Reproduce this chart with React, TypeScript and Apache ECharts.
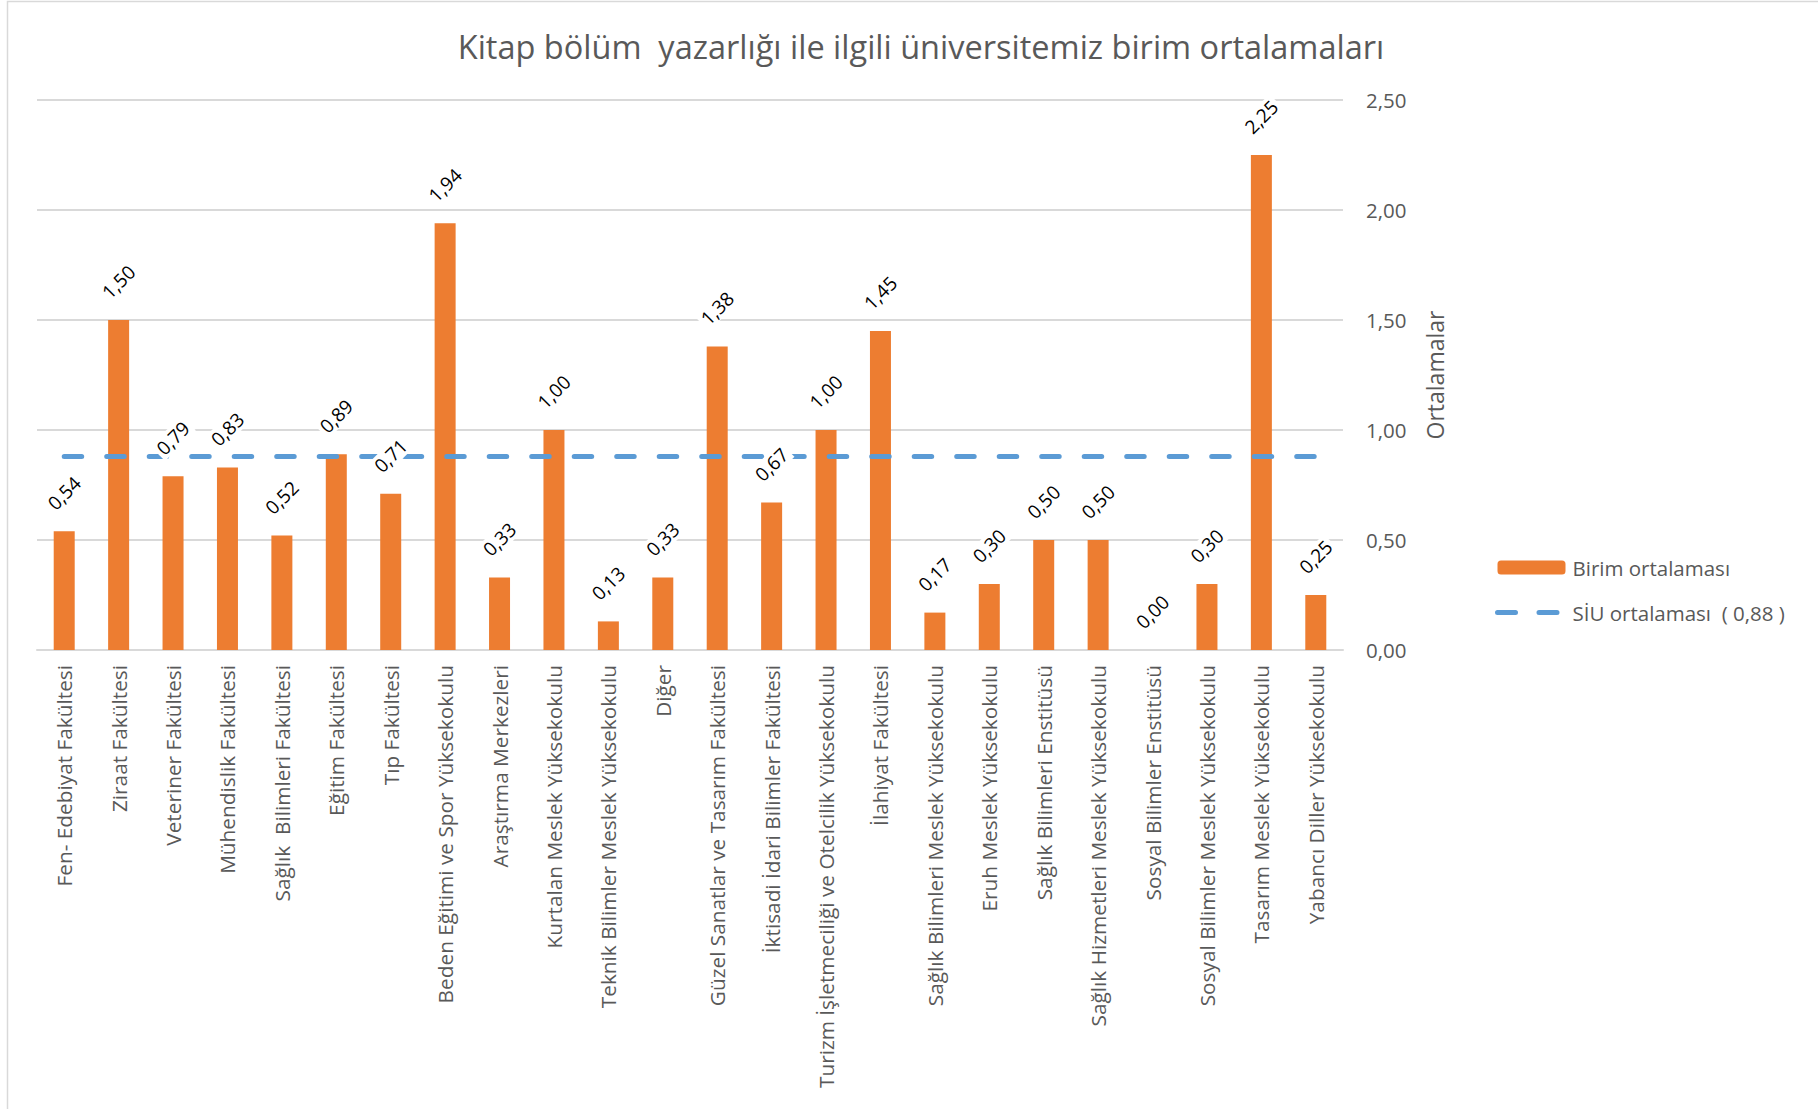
import React, { useEffect, useRef } from "react";
import * as echarts from "echarts";

const titleText = "Kitap bölüm  yazarlığı ile ilgili üniversitemiz birim ortalamaları";
const yAxisName = "Ortalamalar";
const barSeriesName = "Birim ortalaması";
const lineSeriesName = "SİU ortalaması  ( 0,88 )";
const labelSeriesName = "labels";

const categories = [
  "Fen- Edebiyat Fakültesi",
  "Ziraat Fakültesi",
  "Veteriner Fakültesi",
  "Mühendislik Fakültesi",
  "Sağlık  Bilimleri Fakültesi",
  "Eğitim Fakültesi",
  "Tıp Fakültesi",
  "Beden Eğitimi ve Spor Yüksekokulu",
  "Araştırma Merkezleri",
  "Kurtalan Meslek Yüksekokulu",
  "Teknik Bilimler Meslek Yüksekokulu",
  "Diğer",
  "Güzel Sanatlar ve Tasarım Fakültesi",
  "İktisadi İdari Bilimler Fakültesi",
  "Turizm İşletmeciliği ve Otelcilik Yüksekokulu",
  "İlahiyat Fakültesi",
  "Sağlık Bilimleri Meslek Yüksekokulu",
  "Eruh Meslek Yüksekokulu",
  "Sağlık Bilimleri Enstitüsü",
  "Sağlık Hizmetleri Meslek Yüksekokulu",
  "Sosyal Bilimler Enstitüsü",
  "Sosyal Bilimler Meslek Yüksekokulu",
  "Tasarım Meslek Yüksekokulu",
  "Yabancı Diller Yüksekokulu",
];

const unitAverages = [
  0.54, 1.5, 0.79, 0.83, 0.52, 0.89, 0.71, 1.94, 0.33, 1.0, 0.13, 0.33,
  1.38, 0.67, 1.0, 1.45, 0.17, 0.3, 0.5, 0.5, 0.0, 0.3, 2.25, 0.25,
];

const siuAverage = [
  0.88, 0.88, 0.88, 0.88, 0.88, 0.88, 0.88, 0.88, 0.88, 0.88, 0.88, 0.88,
  0.88, 0.88, 0.88, 0.88, 0.88, 0.88, 0.88, 0.88, 0.88, 0.88, 0.88, 0.88,
];

const yMin = 0;
const yMax = 2.5;
const yInterval = 0.5;

const fmt = (v: number) => v.toFixed(2).replace(".", ",");

export default function App() {
  const ref = useRef<HTMLDivElement>(null);

  useEffect(() => {
    if (!ref.current) return;
    const chart = echarts.init(ref.current, null, { renderer: "svg" });
    const font = "'Open Sans', 'Noto Sans', sans-serif";
    const blue = "#5b9bd5";
    chart.setOption({
      animation: false,
      backgroundColor: "#ffffff",
      textStyle: { fontFamily: font },
      graphic: [
        {
          type: "rect",
          shape: { x: 7.5, y: 1.5, width: 2000, height: 1300 },
          style: { fill: "none", stroke: "#d9d9d9", lineWidth: 1.5 },
          silent: true,
          z: -10,
        },
      ],
      title: {
        text: titleText,
        left: 916,
        textAlign: "center",
        top: 25,
        textStyle: {
          fontFamily: font,
          fontSize: 32.5,
          fontWeight: "normal",
          color: "#595959",
        },
      },
      legend: {
        orient: "vertical",
        left: 1490,
        top: 552,
        itemWidth: 68,
        itemHeight: 14,
        itemGap: 24,
        textStyle: { fontFamily: font, fontSize: 20.5, color: "#595959", padding: [0, 0, 0, 2] },
        data: [
          { name: barSeriesName },
          {
            name: lineSeriesName,
            itemStyle: { opacity: 0 },
            lineStyle: { width: 5, color: blue, type: [18, 23.5], cap: "round" },
          },
        ],
      },
      grid: {
        left: 37,
        right: 475,
        top: 100,
        bottom: 459,
        containLabel: false,
      },
      xAxis: {
        type: "category",
        data: categories,
        boundaryGap: true,
        axisLine: { show: true, lineStyle: { color: "#d9d9d9", width: 2 } },
        axisTick: { show: false },
        axisLabel: {
          rotate: 90,
          interval: 0,
          margin: 15,
          fontFamily: font,
          fontSize: 20.8,
          color: "#595959",
        },
      },
      yAxis: {
        type: "value",
        position: "right",
        min: yMin,
        max: yMax,
        interval: yInterval,
        name: yAxisName,
        nameLocation: "middle",
        nameRotate: 90,
        nameGap: 80,
        nameTextStyle: { fontFamily: font, fontSize: 23, color: "#595959" },
        axisLine: { show: false },
        axisTick: { show: false },
        splitLine: { show: true, lineStyle: { color: "#d9d9d9", width: 2 } },
        axisLabel: {
          margin: 23,
          fontFamily: font,
          fontSize: 20.5,
          color: "#595959",
          formatter: (v: number) => fmt(v),
        },
      },
      series: [
        {
          name: barSeriesName,
          type: "bar",
          data: unitAverages,
          barWidth: 21,
          barGap: "-100%",
          z: 2,
          itemStyle: { color: "#ed7d31" },
        },
        {
          name: lineSeriesName,
          type: "line",
          data: siuAverage,
          symbol: "none",
          z: 3,
          lineStyle: {
            color: blue,
            width: 5,
            type: [17.5, 25],
            cap: "round",
          },
          itemStyle: { color: blue },
        },
        {
          name: labelSeriesName,
          type: "bar",
          data: unitAverages,
          barWidth: 21,
          barGap: "-100%",
          z: 4,
          silent: true,
          itemStyle: { color: "rgba(0,0,0,0)" },
          label: {
            show: true,
            position: "top",
            distance: 38,
            rotate: 45,
            align: "center",
            verticalAlign: "middle",
            fontFamily: font,
            fontSize: 19,
            color: "#000000",
            backgroundColor: "#ffffff",
            padding: [1, 3, 1, 3],
            formatter: (p: any) => fmt(p.value),
          },
        },
      ],
    });
    return () => chart.dispose();
  }, []);

  return (
    <div
      ref={ref}
      style={{ position: "fixed", left: 0, top: 0, width: 1818, height: 1109 }}
    />
  );
}
